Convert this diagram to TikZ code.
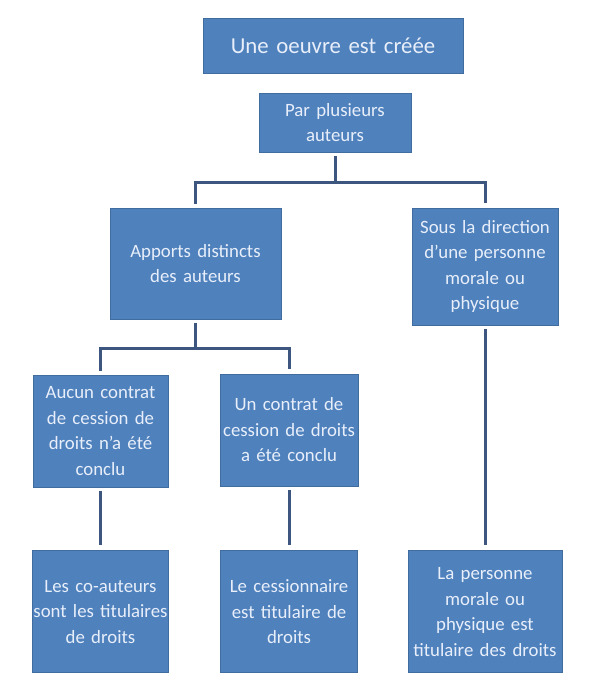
\documentclass[tikz,border=0pt]{standalone}
\usepackage{fontspec}
\setmainfont{Carlito}
\usepackage{tikz}
\usetikzlibrary{positioning}
\definecolor{boxblue}{RGB}{79,129,189}
\definecolor{boxline}{RGB}{65,108,160}
\definecolor{boxtext}{RGB}{232,239,250}
\definecolor{linkblue}{RGB}{60,86,128}
\newcommand\boxtextsize{\fontsize{18.8}{25.5}\selectfont}
\newcommand\roottextsize{\fontsize{22.8}{28}\selectfont}
\tikzset{
  basic/.style  = {draw=boxline, line width=0.8pt, fill=boxblue, text=boxtext,
                   rectangle, align=center, inner xsep=0pt, inner ysep=0pt,
                   font=\boxtextsize},
  root/.style   = {basic, text width=260pt, minimum height=55pt,
                   font=\roottextsize},
  branch/.style = {basic, text width=#1pt, minimum height=112pt},
  leaf/.style   = {basic, text width=#1pt, minimum height=122pt},
  link/.style   = {draw=linkblue, line width=3pt, shorten <=4pt, shorten >=5pt}
}
\begin{document}
\begin{tikzpicture}[x=1pt, y=-1pt]
\useasboundingbox (0,0) rectangle (590,687);

\node[root] (top) at (333,45.5) {Une oeuvre est créée};
\node[basic, text width=152pt, minimum height=59pt] (c0) at (335,122.5)
  {Par plusieurs\\auteurs};

\node[branch=171, minimum height=111pt] (c1) at (195.5,263.5)
  {Apports distincts\\des auteurs};
\node[branch=146, minimum height=117pt] (c2) at (485,266.5)
  {Sous la direction\\d'une personne\\morale ou\\physique};

\node[branch=135] (c11) at (100.5,431)
  {Aucun contrat\\de cession de\\droits n'a été\\conclu};
\node[branch=138] (c12) at (289,430)
  {Un contrat de\\cession de droits\\a été conclu};

% text a bit wider than the box, as in the original
\node[leaf=142, inner xsep=-3pt, below=63pt of c11] (c111)
  {Les co-auteurs\\sont les titulaires\\de droits};
\node[leaf=137, below=64pt of c12] (c121)
  {Le cessionnaire\\est titulaire de\\droits};
\node[leaf=154, below=225pt of c2] (c21)
  {La personne\\morale ou\\physique est\\titulaire des droits};

\coordinate[below=30pt of c0] (f1);
\coordinate[below=29pt of c1] (f2);

\draw[link, shorten >=0pt] (c0) -- (f1);
\draw[link] (c1.north) |- (f1) -| (c2.north);
\draw[link, shorten >=0pt] (c1) -- (f2);
\draw[link] (c11.north) |- (f2) -| (c12.north);

\foreach \from/\to in {c11/c111, c12/c121, c2/c21}
  \draw[link] (\from) -- (\to);
\end{tikzpicture}
\end{document}
